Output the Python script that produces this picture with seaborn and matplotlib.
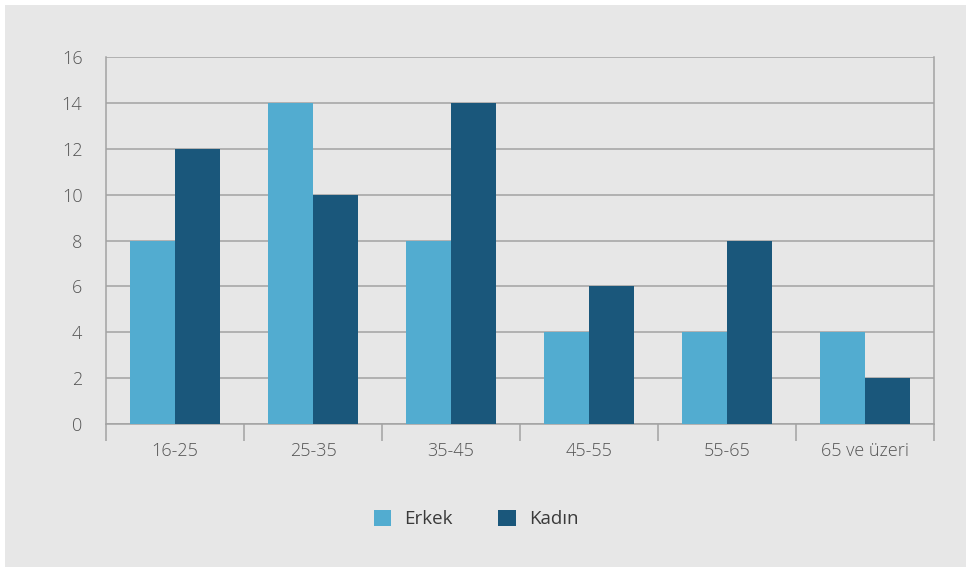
import matplotlib
matplotlib.use("Agg")
import matplotlib.pyplot as plt
from matplotlib.patches import Rectangle
import seaborn as sns
import pandas as pd

# Age groups and counts per gender
age_groups = ["16-25", "25-35", "35-45", "45-55", "55-65", "65 ve üzeri"]
erkek = [8, 14, 8, 4, 4, 4]
kadin = [12, 10, 14, 6, 8, 2]
series_names = ["Erkek", "Kadın"]
y_ticks = [0, 2, 4, 6, 8, 10, 12, 14, 16]

palette = {"Erkek": "#52acd0", "Kadın": "#1a577b"}
bg = "#e7e7e7"
grid_c = "#a3a3a3"
text_c = "#555555"

df = pd.DataFrame({
    "grup": age_groups * 2,
    "cinsiyet": [series_names[0]] * len(age_groups) + [series_names[1]] * len(age_groups),
    "deger": erkek + kadin,
})

sns.set_theme(style="white")
plt.rcParams["font.family"] = ["Open Sans", "DejaVu Sans"]

fig = plt.figure(figsize=(9.69, 5.71), dpi=100, facecolor="white")
# grey panel with a thin white margin
fig.patches.append(Rectangle((5 / 969, 4 / 571), 961 / 969, 562 / 571,
                             transform=fig.transFigure, facecolor=bg,
                             edgecolor="none", zorder=-10))

ax = fig.add_axes([106 / 969, 1 - 424 / 571, 828 / 969, 367 / 571])
ax.set_facecolor(bg)

sns.barplot(data=df, x="grup", y="deger", hue="cinsiyet", palette=palette,
            width=0.645, saturation=1, ax=ax, legend=False, zorder=3,
            edgecolor="none", linewidth=0)

ax.set_xlim(-0.5, len(age_groups) - 0.5)
ax.set_ylim(0, 16)
ax.set_yticks(y_ticks)
ax.set_yticklabels([str(v) for v in y_ticks])
ax.yaxis.grid(True, color=grid_c, linewidth=1.1, zorder=0)
ax.set_axisbelow(True)

# category boundaries as long major ticks, labels centred on minor ticks
ax.set_xticks([i - 0.5 for i in range(len(age_groups) + 1)])
ax.set_xticklabels([])
ax.set_xticks(range(len(age_groups)), minor=True)
ax.set_xticklabels(age_groups, minor=True)
ax.tick_params(axis="x", which="major", length=12, width=1.1, color=grid_c,
               direction="out", bottom=True)
ax.tick_params(axis="x", which="minor", length=0, pad=13,
               labelsize=13, labelcolor=text_c)
ax.tick_params(axis="y", length=0, pad=17, labelsize=13, labelcolor=text_c)
for lbl in ax.get_xticklabels(minor=True) + ax.get_yticklabels():
    lbl.set_fontweight("light")

for side in ["left", "right", "bottom"]:
    ax.spines[side].set_visible(True)
    ax.spines[side].set_color(grid_c)
    ax.spines[side].set_linewidth(1.1)
ax.spines["top"].set_visible(False)
ax.set_xlabel("")
ax.set_ylabel("")

handles = [Rectangle((0, 0), 1, 1, facecolor=palette[n], edgecolor="none")
           for n in series_names]
leg = fig.legend(handles, series_names, loc="center",
                 bbox_to_anchor=(476 / 969, 1 - 519 / 571), ncol=2, frameon=False,
                 handlelength=0.95, handleheight=0.95, handletextpad=0.7,
                 columnspacing=2.4, fontsize=13.5)
for t in leg.get_texts():
    t.set_color("#3a3a3a")

fig.savefig("out.png", dpi=100, facecolor="white")
